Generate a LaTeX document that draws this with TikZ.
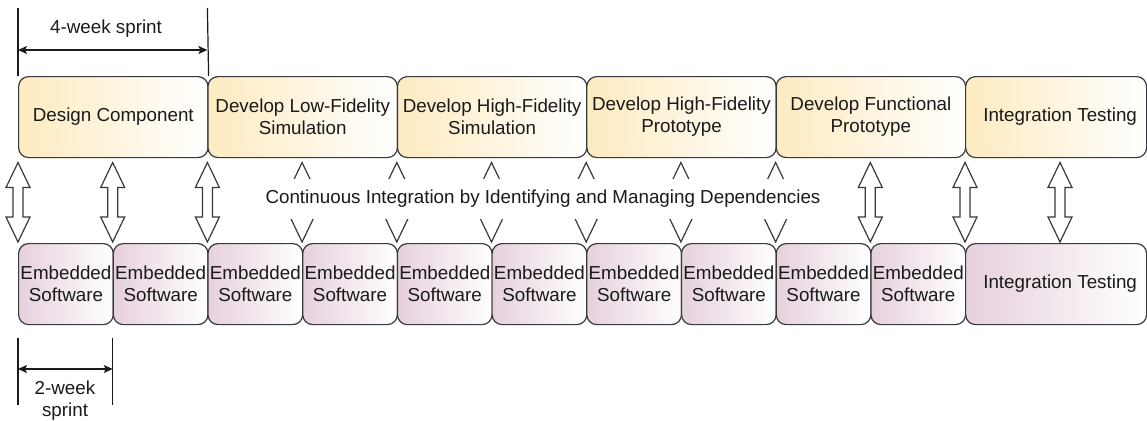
\documentclass[tikz,border=0pt]{standalone}
\usepackage{fontspec}
\setmainfont{Liberation Sans}
\usetikzlibrary{arrows.meta}
\definecolor{strokec}{HTML}{36393D}
\definecolor{topc}{HTML}{FDEBC0}
\definecolor{botc}{HTML}{E6D0DE}
\definecolor{txtc}{HTML}{1A1A1A}
\newcommand\dfont{\fontsize{18.8}{22}\selectfont}
\begin{document}
\begin{tikzpicture}[x=1pt,y=-1pt,
  box/.style={draw=strokec, line width=1.2pt, rounded corners=10pt, inner sep=0pt,
    align=center, font=\dfont, text=txtc, right color=white, anchor=north west,
    minimum height=81pt},
  topbox/.style={box, left color=topc, minimum width=189.4pt},
  botbox/.style={box, left color=botc, minimum width=94.7pt},
  blockarrow/.style={draw=strokec, fill=white, line width=1.2pt, line join=miter},
  dimline/.style={draw=txtc, line width=1.2pt},
  dimarrow/.style={draw=txtc, line width=1.2pt,
    {Stealth[length=9pt,width=8pt,inset=2pt]}-{Stealth[length=9pt,width=8pt,inset=2pt]}},
  plain/.style={font=\dfont, text=txtc, align=center, inner sep=0pt}
]
\useasboundingbox (0,0) rectangle (1147,420);

% top row
\node[topbox] (t1) at (18,76) {Design Component};
\node[topbox] (t2) at (207.4,76) {Develop Low-Fidelity\\Simulation};
\node[topbox] (t3) at (396.8,76) {Develop High-Fidelity\\Simulation};
\node[topbox] (t4) at (586.2,76) {Develop High-Fidelity\\Prototype};
\node[topbox] (t5) at (775.6,76) {Develop Functional\\Prototype};
\node[topbox, minimum width=181pt] (t6) at (965,76) {\hspace*{8pt}Integration Testing};

% bottom row
\foreach \i [evaluate=\i as \xx using 18+94.7*(\i-1)] in {1,...,10}{
  \node[botbox] (b\i) at (\xx,243) {Embedded\\Software};
}
\node[botbox, minimum width=181pt] (b11) at (965,243) {\hspace*{8pt}Integration Testing};

% block arrows
\foreach \x in {18,112.7,207.4,302.1,396.8,491.5,586.2,680.9,775.6,870.3,965,1060}{
  \path[blockarrow] (\x,162.5) -- (\x+12,187.5) -- (\x+5,187.5) -- (\x+5,217) --
    (\x+12,217) -- (\x,242) -- (\x-12,217) -- (\x-5,217) -- (\x-5,187.5) --
    (\x-12,187.5) -- cycle;
}

% label covering the middle arrows
\node[plain, fill=white, minimum width=600pt, minimum height=40pt] (ci) at (543,198.5)
  {Continuous Integration by Identifying and Managing Dependencies};

% 4-week sprint dimension
\coordinate (a1) at (18,8);
\coordinate (a2) at (207.4,8);
\draw[dimline] (a1) -- (t1.north west);
\draw[dimline] (a2) -- (t1.north east);
\coordinate (a3) at (18,50);
\coordinate (a4) at (207.4,50);
\draw[dimarrow] (a3) -- (a4);
\node[plain] (w4) at (106,29) {4-week sprint};

% 2-week sprint dimension
\coordinate (c1) at (18,338);
\coordinate (c2) at (18,405);
\coordinate (c3) at (112.7,338);
\coordinate (c4) at (112.7,405);
\draw[dimline] (c1) -- (c2);
\draw[dimline] (c3) -- (c4);
\coordinate (c5) at (18,369);
\coordinate (c6) at (112.7,369);
\draw[dimarrow] (c5) -- (c6);
\node[plain] (w2) at (65,401) {2-week\\sprint};
\end{tikzpicture}
\end{document}
